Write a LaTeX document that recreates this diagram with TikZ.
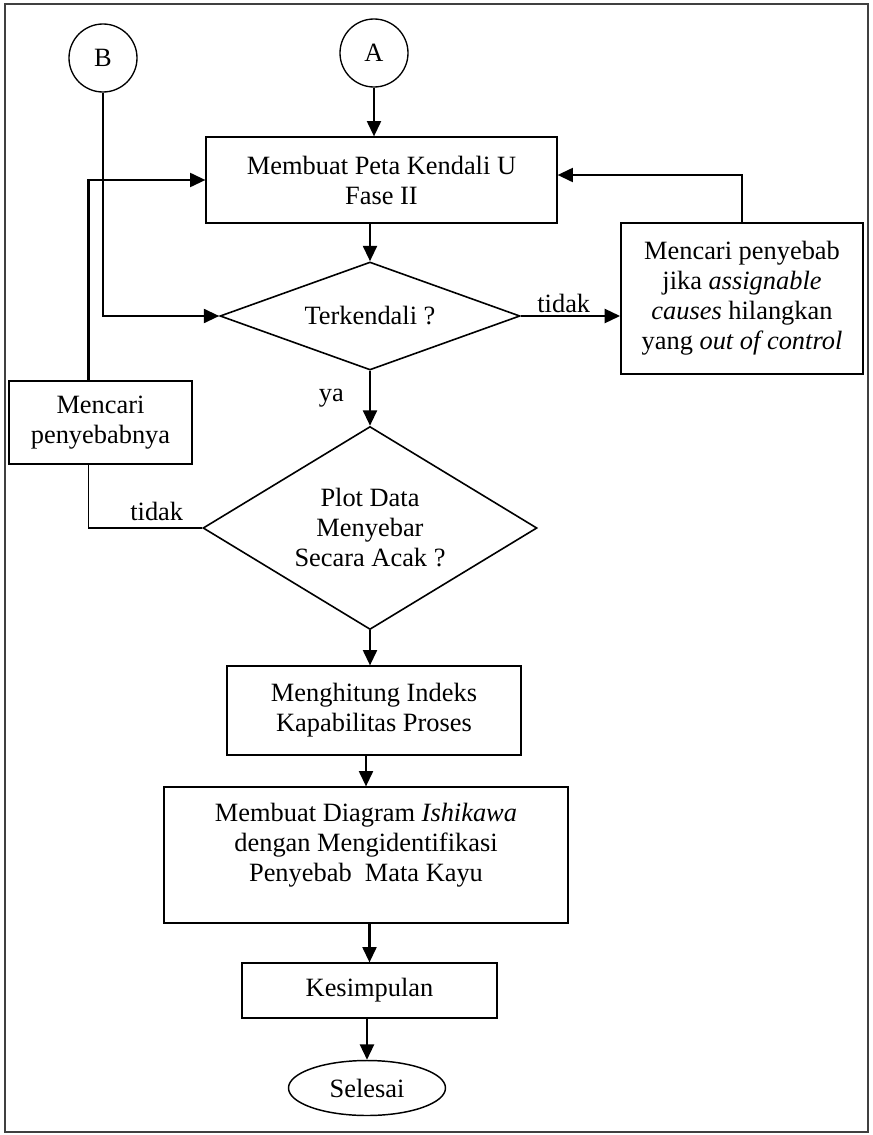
\documentclass[tikz,border=0pt]{standalone}
\usepackage{fontspec}
\setmainfont{Liberation Serif}
\usetikzlibrary{shapes.geometric,arrows.meta}

\begin{document}
\begin{tikzpicture}[x=0.75pt,y=-0.75pt,
  every node/.style={font=\fontsize{19.8}{22.5}\selectfont, align=center},
  proc/.style={draw, line width=0.9pt, inner sep=2pt},
  decision/.style={draw, diamond, line width=1.2pt, inner sep=0pt},
  conn/.style={draw, circle, line width=1pt, minimum size=51pt, inner sep=0pt},
  term/.style={draw, ellipse, line width=1.1pt, inner sep=0pt},
  arr/.style={line width=1.6pt, -{Triangle[length=11.5pt,width=10.5pt]}},
  link/.style={line width=1.1pt},
  lbl/.style={inner sep=2pt}
]
\useasboundingbox (0,0) rectangle (872,1135);
% frame around the flowchart
\draw[line width=1pt, black!75] (5,4) rectangle (868,1132);

% connectors
\node[conn] (B) at (103,58) {B};
\node[conn] (A) at (374,53) {A};

% main column
\node[proc, minimum width=263.25pt, minimum height=64.5pt] (b1) at (381.5,180)
  {Membuat Peta Kendali U\\Fase II};
\node[decision, aspect=2.78, minimum width=225pt, minimum height=81pt] (d1) at (370,316)
  {Terkendali ?};
\node[proc, line width=1.4pt, minimum width=181.5pt, minimum height=113.25pt] (bR) at (742,298.5)
  {Mencari penyebab\\jika \textit{assignable}\\\textit{causes} hilangkan\\yang \textit{out of control}};
\node[proc, minimum width=137.25pt, minimum height=62.25pt] (bL) at (100.5,422.5)
  {Mencari\\penyebabnya};
\node[decision, aspect=1.65, minimum width=250.5pt, minimum height=152.25pt] (d2) at (370,528)
  {Plot Data\\Menyebar\\Secara Acak ?};
\node[proc, minimum width=220.5pt, minimum height=66.75pt] (b3) at (374,710.5)
  {Menghitung Indeks\\Kapabilitas Proses};
\node[proc, minimum width=303pt, minimum height=102pt] (b4) at (366,855)
  {Membuat Diagram \textit{Ishikawa}\\dengan Mengidentifikasi\\Penyebab\ \ Mata Kayu\\[-4pt]\mbox{}};
\node[proc, minimum width=191.25pt, minimum height=41.25pt] (b5) at (369.5,990.5)
  {Kesimpulan};
\node[term, minimum width=117.75pt, minimum height=41.25pt] (end) at (367,1088)
  {Selesai};

% flow
\draw[arr] (A.south) -- (A.south |- b1.north);
\draw[arr] (d1.north |- b1.south) -- (d1.north);
\draw[arr] (d1.south) -- node[lbl, midway, xshift=-29pt] {ya} (d2.north);
\draw[arr] (d2.south) -- (d2.south |- b3.north);
\draw[arr] (b3.south -| b4.north) -- (b4.north);
\draw[arr] (b4.south -| b5.north) -- (b5.north);
\draw[arr] (b5.south -| end.north) -- (end.north);

% branches
\draw[arr] (d1.east) -- node[lbl, above, midway, xshift=-5pt] {tidak} (d1.east -| bR.west);
\draw[arr] (bR.north) |- ([yshift=3.75pt]b1.east);
\draw[arr] (B.south) |- (d1.west);
\draw[link] (d2.west) -| node[lbl, above, pos=0.2, yshift=3pt] {tidak} ([xshift=-9pt]bL.south);
\draw[arr] ([xshift=-9pt]bL.north) |- (b1.west);
\end{tikzpicture}
\end{document}
